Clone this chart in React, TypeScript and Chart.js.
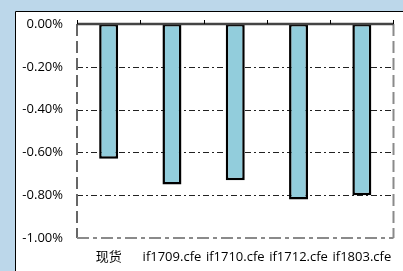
import React, { useEffect, useRef } from "react";
import { Chart, registerables } from "chart.js";

Chart.register(...registerables);

const categories = ["现货", "if1709.cfe", "if1710.cfe", "if1712.cfe", "if1803.cfe"];
const values = [-0.63, -0.75, -0.73, -0.82, -0.8];
const yTicks = [0, -0.2, -0.4, -0.6, -0.8, -1.0];

const FONT = "'Open Sans', 'Noto Sans CJK SC', sans-serif";

const framePlugin = {
  id: "frame",
  beforeDraw(chart: any) {
    const { ctx, width, height } = chart;
    ctx.save();
    ctx.fillStyle = "#BCD7EA";
    ctx.fillRect(0, 0, width, height);
    ctx.fillStyle = "#ffffff";
    ctx.fillRect(15, 11, width - 15, height - 11);
    ctx.strokeStyle = "#000";
    ctx.lineWidth = 1;
    ctx.beginPath();
    ctx.moveTo(15.5, height);
    ctx.lineTo(15.5, 11.5);
    ctx.lineTo(width, 11.5);
    ctx.stroke();
    ctx.restore();
  },
  beforeDatasetsDraw(chart: any) {
    const { ctx, chartArea } = chart;
    const y = chart.scales.y;
    const { left, right, top, bottom } = chartArea;
    ctx.save();
    ctx.strokeStyle = "#222";
    ctx.lineWidth = 1;
    ctx.setLineDash([6, 3, 2, 3]);
    yTicks.forEach((v) => {
      if (v === 0 || v === -1) return;
      const py = Math.round(y.getPixelForValue(v)) + 0.5;
      ctx.beginPath();
      ctx.moveTo(left, py);
      ctx.lineTo(right, py);
      ctx.stroke();
    });
    ctx.strokeStyle = "#666";
    ctx.lineWidth = 2;
    ctx.setLineDash([12, 5]);
    ctx.beginPath();
    ctx.moveTo(left, top);
    ctx.lineTo(left, bottom);
    ctx.stroke();
    ctx.strokeStyle = "#8a8a8a";
    ctx.beginPath();
    ctx.moveTo(right, top);
    ctx.lineTo(right, bottom);
    ctx.stroke();
    ctx.setLineDash([12, 4, 4, 4]);
    ctx.beginPath();
    ctx.moveTo(left, bottom);
    ctx.lineTo(right, bottom);
    ctx.stroke();
    ctx.restore();
  },
  afterDatasetsDraw(chart: any) {
    const { ctx, chartArea } = chart;
    const { left, right, top } = chartArea;
    ctx.save();
    ctx.strokeStyle = "#444";
    ctx.lineWidth = 2.5;
    ctx.beginPath();
    ctx.moveTo(left, top);
    ctx.lineTo(right, top);
    ctx.stroke();
    ctx.strokeStyle = "#000";
    ctx.lineWidth = 1;
    const n = categories.length;
    const w = (right - left) / n;
    for (let i = 0; i <= n; i++) {
      const px = Math.round(left + i * w) + 0.5;
      ctx.beginPath();
      ctx.moveTo(px, top);
      ctx.lineTo(px, top - 4);
      ctx.stroke();
    }
    ctx.restore();
  },
};

export default function App() {
  const ref = useRef<HTMLCanvasElement>(null);
  useEffect(() => {
    if (!ref.current) return;
    const chart = new Chart(ref.current, {
      type: "bar",
      data: {
        labels: categories,
        datasets: [
          {
            data: values,
            backgroundColor: "#92CDDC",
            borderColor: "#000",
            borderWidth: 2.5,
            borderSkipped: false,
            categoryPercentage: 1,
            barPercentage: 0.3,
          },
        ],
      },
      options: {
        animation: false,
        responsive: false,
        layout: { padding: { top: 24, right: 8, left: 0, bottom: 0 } },
        plugins: { legend: { display: false }, tooltip: { enabled: false } },
        scales: {
          x: {
            grid: { display: false, drawTicks: false },
            border: { display: false },
            ticks: {
              color: "#000",
              padding: 11,
              maxRotation: 0,
              autoSkip: false,
              font: { family: FONT, size: 13 },
            },
            afterFit: (s: any) => {
              s.height = 33;
            },
          },
          y: {
            min: -1,
            max: 0,
            grid: { display: false, drawTicks: false },
            border: { display: false },
            afterBuildTicks: (s: any) => {
              s.ticks = yTicks.map((v) => ({ value: v }));
            },
            ticks: {
              color: "#000",
              padding: 14,
              callback: (v: any) => Number(v).toFixed(2) + "%",
              font: { family: FONT, size: 13 },
            },
            afterFit: (s: any) => {
              s.width = 77;
            },
          },
        },
      },
      plugins: [framePlugin],
    });
    return () => chart.destroy();
  }, []);
  return (
    <div style={{ position: "fixed", left: 0, top: 0, width: 403, height: 271 }}>
      <canvas ref={ref} width={403} height={271} style={{ display: "block" }} />
    </div>
  );
}
